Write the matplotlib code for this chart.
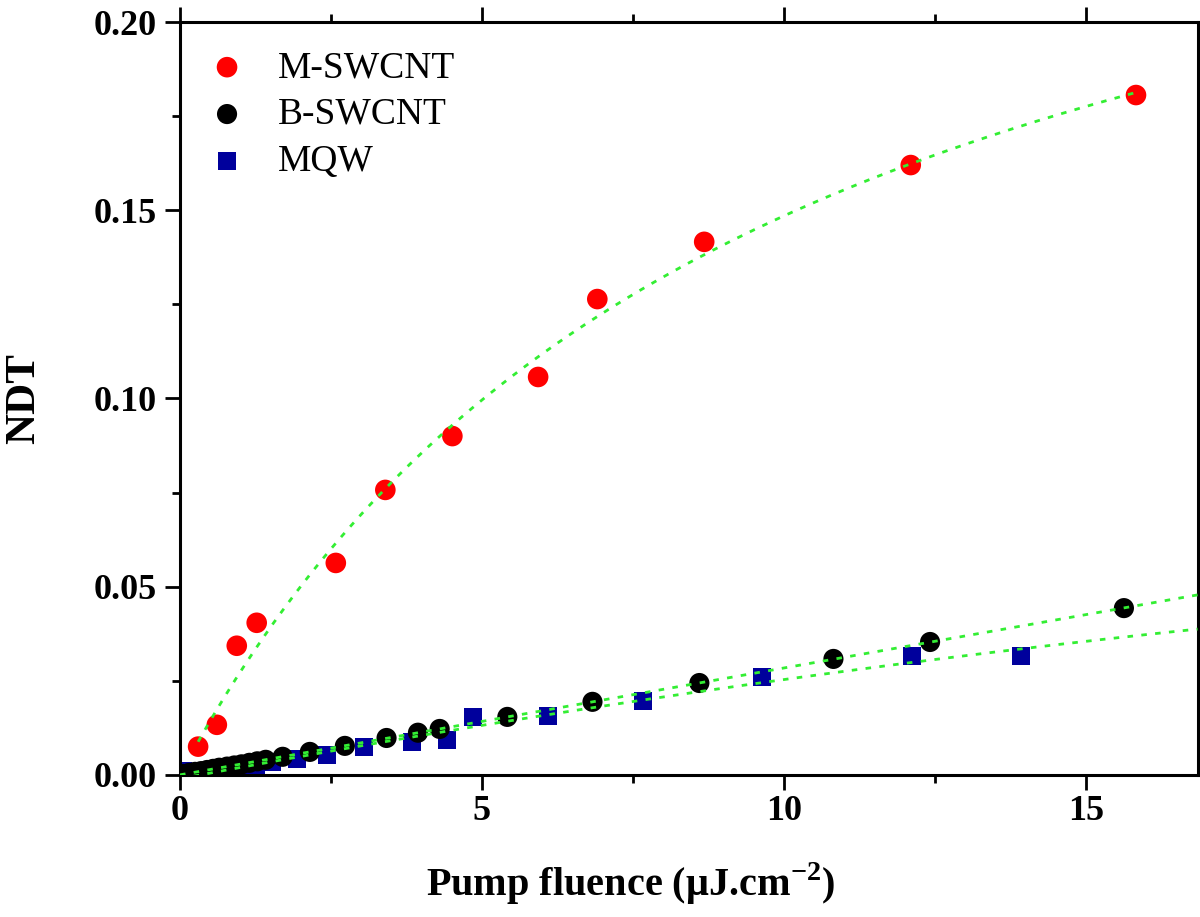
import numpy as np
import matplotlib.pyplot as plt
from matplotlib.ticker import MultipleLocator

# ==========================
# Data
# ==========================

# M-SWCNT
m_fluence = [0.30, 0.61, 0.94, 1.27, 2.58, 3.40, 4.51, 5.93, 6.91, 8.68, 12.10, 15.83]
m_ndt = [0.0075, 0.0133, 0.0343, 0.0404, 0.0563, 0.0757, 0.0900, 0.1057, 0.1264, 0.1416, 0.1620, 0.1806]

# B-SWCNT
b_fluence = [0.05, 0.15, 0.25, 0.35, 0.45, 0.55, 0.65, 0.78, 0.90, 1.02, 1.15, 1.28, 1.42,
             1.70, 2.15, 2.73, 3.42, 3.94, 4.30, 5.42, 6.83, 8.60, 10.82, 12.42, 15.63]
b_ndt = [0.0002, 0.0005, 0.0008, 0.0010, 0.0013, 0.0016, 0.0019, 0.0022, 0.0025, 0.0028,
         0.0032, 0.0036, 0.0040, 0.0048, 0.0061, 0.0077, 0.0098, 0.0112, 0.0122, 0.0154,
         0.0194, 0.0244, 0.0308, 0.0353, 0.0443]

# MQW
q_fluence = [0.05, 0.85, 1.05, 1.25, 1.52, 1.93, 2.43, 3.04, 3.84, 4.42, 4.85, 6.09, 7.66,
             9.64, 12.12, 13.92]
q_ndt = [0.0010, 0.0015, 0.0020, 0.0027, 0.0035, 0.0042, 0.0053, 0.0074, 0.0088, 0.0093,
         0.0154, 0.0157, 0.0197, 0.0260, 0.0316, 0.0316]

x_max = 16.85

# ==========================
# Fits (computed from the data)
# ==========================

m_x = np.array(m_fluence)
m_y = np.array(m_ndt)

# saturable form A*F/(F+Fs): scan Fs, solve A by least squares
best = None
for fs in np.linspace(1, 40, 781):
    g = m_x / (m_x + fs)
    a = np.dot(g, m_y) / np.dot(g, g)
    err = np.sum((a * g - m_y) ** 2)
    if best is None or err < best[0]:
        best = (err, a, fs)
_, m_a, m_fs = best
m_fit_x = np.linspace(m_x.min(), m_x.max(), 200)
m_fit_y = m_a * m_fit_x / (m_fit_x + m_fs)

b_coef = np.polyfit(b_fluence, b_ndt, 2)
q_coef = np.polyfit(q_fluence, q_ndt, 2)
lin_x = np.linspace(0, x_max, 200)

# ==========================
# Plot
# ==========================

plt.rcParams['font.family'] = ['Liberation Serif', 'DejaVu Serif']
plt.rcParams['mathtext.fontset'] = 'custom'
plt.rcParams['mathtext.rm'] = 'Liberation Serif'
plt.rcParams['mathtext.bf'] = 'Liberation Serif:bold'

fig = plt.figure(figsize=(12, 9.17), dpi=100)
ax = fig.add_axes([0.15, 0.155, 0.848, 0.821])

green = '#33EE33'

ax.scatter(q_fluence, q_ndt, marker='s', s=170, color='#00009C', edgecolors='none',
           label='MQW', zorder=2)
ax.scatter(b_fluence, b_ndt, marker='o', s=210, color='black', edgecolors='none',
           label='B-SWCNT', zorder=3)
ax.scatter(m_fluence, m_ndt, marker='o', s=220, color='#FF0000', edgecolors='none',
           label='M-SWCNT', zorder=3)

ax.plot(m_fit_x, m_fit_y, color=green, lw=2.0, ls=(0, (2, 3)), zorder=4)
ax.plot(lin_x, np.polyval(b_coef, lin_x), color=green, lw=2.0, ls=(0, (2, 3)), zorder=4)
ax.plot(lin_x, np.polyval(q_coef, lin_x), color=green, lw=2.0, ls=(0, (2, 3)), zorder=4)

ax.set_xlim(0, x_max)
ax.set_ylim(0, 0.20)

ax.xaxis.set_major_locator(MultipleLocator(5))
ax.xaxis.set_minor_locator(MultipleLocator(2.5))
ax.yaxis.set_major_locator(MultipleLocator(0.05))
ax.yaxis.set_minor_locator(MultipleLocator(0.025))
ax.yaxis.set_major_formatter(plt.FormatStrFormatter('%.2f'))

for side in ['left', 'right', 'top', 'bottom']:
    ax.spines[side].set_linewidth(2.2)

ax.tick_params(which='both', direction='out', top=True, right=True, width=2)
ax.tick_params(which='major', length=11)
ax.tick_params(which='minor', length=6)
ax.tick_params(axis='y', which='both', right=True, direction='in')
ax.tick_params(axis='y', which='both', left=True, direction='out')
ax.tick_params(labelsize=26)
ax.tick_params(axis='y', pad=6)
for lab in ax.get_xticklabels() + ax.get_yticklabels():
    lab.set_fontweight('bold')

ax.set_xlabel('Pump fluence (\u03bcJ.cm$^{\\mathbf{-2}}$)', fontsize=29, fontweight='bold')
ax.xaxis.set_label_coords(0.443, -0.114)
ax.set_ylabel('NDT', fontsize=31, fontweight='bold', labelpad=36)

handles, labels = ax.get_legend_handles_labels()
order = [2, 1, 0]
ax.legend([handles[i] for i in order], [labels[i] for i in order], loc='upper left',
          frameon=False, fontsize=27, handletextpad=0.85, labelspacing=0.33,
          handlelength=1.0, bbox_to_anchor=(0.002, 0.997), borderaxespad=0.2,
          borderpad=0.5)

fig.savefig('out.png', dpi=100)
